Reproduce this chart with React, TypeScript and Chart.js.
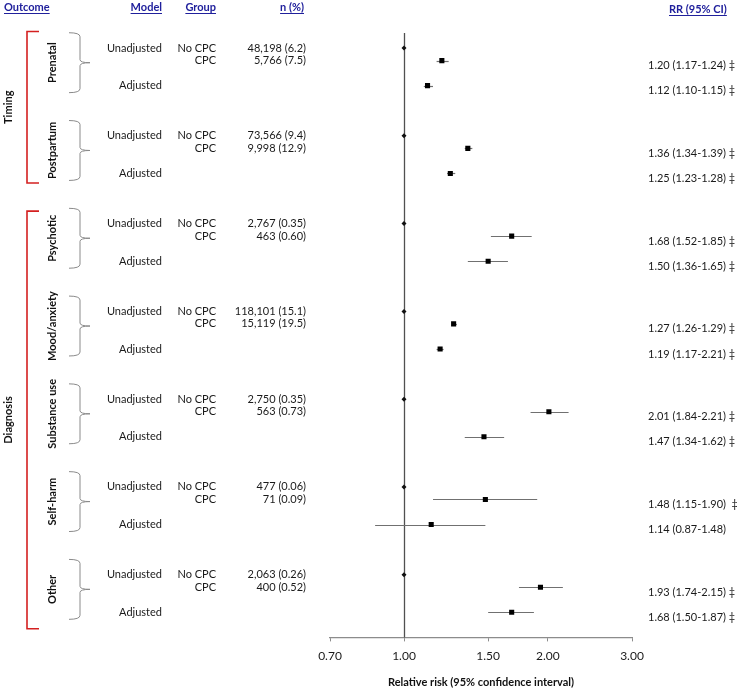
import { useEffect, useRef } from 'react';
import { Chart, registerables } from 'chart.js';

Chart.register(...registerables);

// ---------- data ----------
const outcomes = ['Prenatal', 'Postpartum', 'Psychotic', 'Mood/anxiety', 'Substance use', 'Self-harm', 'Other'];
const sectionNames = ['Timing', 'Diagnosis'];
const sectionStart = [0, 2];
const sectionEnd = [1, 6];

const noCpcN = ['48,198 (6.2)', '73,566 (9.4)', '2,767 (0.35)', '118,101 (15.1)', '2,750 (0.35)', '477 (0.06)', '2,063 (0.26)'];
const cpcN = ['5,766 (7.5)', '9,998 (12.9)', '463 (0.60)', '15,119 (19.5)', '563 (0.73)', '71 (0.09)', '400 (0.52)'];

const unadjRR = [1.20, 1.36, 1.68, 1.27, 2.01, 1.48, 1.93];
const unadjLo = [1.17, 1.34, 1.52, 1.26, 1.84, 1.15, 1.74];
const unadjHi = [1.24, 1.39, 1.85, 1.29, 2.21, 1.90, 2.15];

const adjRR = [1.12, 1.25, 1.50, 1.19, 1.47, 1.14, 1.68];
const adjLo = [1.10, 1.23, 1.36, 1.17, 1.34, 0.87, 1.50];
const adjHi = [1.15, 1.28, 1.65, 1.21, 1.62, 1.48, 1.87];

const unadjLabels = ['1.20 (1.17-1.24) \u2021', '1.36 (1.34-1.39) \u2021', '1.68 (1.52-1.85) \u2021', '1.27 (1.26-1.29) \u2021', '2.01 (1.84-2.21) \u2021', '1.48 (1.15-1.90)  \u2021', '1.93 (1.74-2.15) \u2021'];
const adjLabels = ['1.12 (1.10-1.15) \u2021', '1.25 (1.23-1.28) \u2021', '1.50 (1.36-1.65) \u2021', '1.19 (1.17-2.21) \u2021', '1.47 (1.34-1.62) \u2021', '1.14 (0.87-1.48)', '1.68 (1.50-1.87) \u2021'];

const xTicks = [0.7, 1.0, 1.5, 2.0, 3.0];
const headers = ['Outcome', 'Model', 'Group', 'n (%)', 'RR (95% CI)'];
const modelLabels = ['Unadjusted', 'Adjusted'];
const groupLabels = ['No CPC', 'CPC'];

// row offsets within a block (in y-scale units)
const rowOffsets = [0, 1, 3];
const blockStep = 7;
const rowY = (g: number, k: number) => g * blockStep + rowOffsets[k];

const FONT = "Lato, 'Noto Sans', sans-serif";
const TEXT = '#1a1a1a';
const HEAD = '#20209c';

const forestPlugin = {
  id: 'forest',
  beforeDatasetsDraw(chart: any) {
    const { ctx, chartArea, scales } = chart;
    const x = scales.x;
    const y = scales.y;
    ctx.save();
    const x1 = Math.round(x.getPixelForValue(1)) + 0.5;
    ctx.strokeStyle = '#505050';
    ctx.lineWidth = 1.3;
    ctx.beginPath();
    ctx.moveTo(x1, chartArea.top);
    ctx.lineTo(x1, chartArea.bottom);
    ctx.stroke();

    ctx.strokeStyle = '#707070';
    ctx.lineWidth = 1.2;
    outcomes.forEach((_, g) => {
      const bars: [number, number, number][] = [
        [unadjLo[g], unadjHi[g], rowY(g, 1)],
        [adjLo[g], adjHi[g], rowY(g, 2)],
      ];
      bars.forEach(([lo, hi, r]) => {
        const py = Math.round(y.getPixelForValue(r)) + 0.5;
        ctx.beginPath();
        ctx.moveTo(x.getPixelForValue(lo), py);
        ctx.lineTo(x.getPixelForValue(hi), py);
        ctx.stroke();
      });
    });
    ctx.restore();
  },
  afterDraw(chart: any) {
    const { ctx, scales } = chart;
    const y = scales.y;
    const py = (g: number, k: number) => y.getPixelForValue(rowY(g, k));
    ctx.save();
    ctx.textBaseline = 'middle';

    // headers
    ctx.font = `bold 11px ${FONT}`;
    ctx.fillStyle = HEAD;
    ctx.strokeStyle = HEAD;
    ctx.lineWidth = 1;
    const headPos: [number, 'left' | 'right', number][] = [
      [4, 'left', 7], [162, 'right', 7], [216, 'right', 7], [304, 'right', 7], [669, 'left', 9],
    ];
    headers.forEach((h, i) => {
      const [hx, align, hy] = headPos[i];
      ctx.textAlign = align;
      ctx.fillText(h, hx, hy);
      const w = ctx.measureText(h).width;
      const x0 = align === 'left' ? hx : hx - w;
      ctx.beginPath();
      ctx.moveTo(x0, hy + 6.5);
      ctx.lineTo(x0 + w, hy + 6.5);
      ctx.stroke();
    });

    // section brackets (red) + labels
    sectionNames.forEach((name, s) => {
      const top = py(sectionStart[s], 0) - (s === 0 ? 16.5 : 12.5);
      const bottom = py(sectionEnd[s], 2) + (s === 0 ? 9.5 : 16.5);
      ctx.strokeStyle = '#d42020';
      ctx.lineWidth = 1.6;
      ctx.beginPath();
      ctx.moveTo(39, top);
      ctx.lineTo(27, top);
      ctx.lineTo(27, bottom);
      ctx.lineTo(39, bottom);
      ctx.stroke();
      ctx.save();
      ctx.translate(8, (top + bottom) / 2);
      ctx.rotate(-Math.PI / 2);
      ctx.textAlign = 'center';
      ctx.fillStyle = '#111';
      ctx.font = `bold 11px ${FONT}`;
      ctx.fillText(name, 0, 0);
      ctx.restore();
    });

    // group braces, rotated labels, left text columns, right RR labels
    outcomes.forEach((name, g) => {
      const top = py(g, 0) - 15.3;
      const bottom = py(g, 2) + 7;
      const mid = (top + bottom) / 2;
      ctx.strokeStyle = '#8a8a8a';
      ctx.lineWidth = 1;
      ctx.beginPath();
      ctx.moveTo(69, top);
      ctx.quadraticCurveTo(80, top, 80, top + 4);
      ctx.lineTo(80, mid - 3);
      ctx.quadraticCurveTo(80, mid, 90, mid);
      ctx.quadraticCurveTo(80, mid, 80, mid + 3);
      ctx.lineTo(80, bottom - 4);
      ctx.quadraticCurveTo(80, bottom, 69, bottom);
      ctx.stroke();

      ctx.save();
      ctx.translate(52, mid);
      ctx.rotate(-Math.PI / 2);
      ctx.textAlign = 'center';
      ctx.fillStyle = '#111';
      ctx.font = `bold 11px ${FONT}`;
      ctx.fillText(name, 0, 0);
      ctx.restore();

      ctx.font = `11px ${FONT}`;
      ctx.fillStyle = TEXT;
      ctx.textAlign = 'right';
      ctx.fillText(modelLabels[0], 162, py(g, 0));
      ctx.fillText(modelLabels[1], 162, py(g, 2));
      ctx.fillText(groupLabels[0], 216, py(g, 0));
      ctx.fillText(groupLabels[1], 216, py(g, 1));
      ctx.fillText(noCpcN[g], 306, py(g, 0));
      ctx.fillText(cpcN[g], 306, py(g, 1));

      ctx.textAlign = 'left';
      ctx.fillText(unadjLabels[g], 648, py(g, 1) + 5);
      ctx.fillText(adjLabels[g], 648, py(g, 2) + 5);
    });

    ctx.restore();
  },
};

export default function App() {
  const ref = useRef<HTMLCanvasElement>(null);
  useEffect(() => {
    if (!ref.current) return;
    const refPoints = outcomes.map((_, g) => ({ x: 1, y: rowY(g, 0) }));
    const unadjPoints = unadjRR.map((v, g) => ({ x: v, y: rowY(g, 1) }));
    const adjPoints = adjRR.map((v, g) => ({ x: v, y: rowY(g, 2) }));
    const chart = new Chart(ref.current, {
      type: 'scatter',
      data: {
        datasets: [
          { data: refPoints, pointStyle: 'rectRot', pointRadius: 2.5, backgroundColor: '#111', borderWidth: 0 },
          { data: unadjPoints, pointStyle: 'rect', pointRadius: 3.6, backgroundColor: '#000', borderWidth: 0 },
          { data: adjPoints, pointStyle: 'rect', pointRadius: 3.6, backgroundColor: '#000', borderWidth: 0 },
        ],
      } as any,
      options: {
        animation: false,
        responsive: false,
        devicePixelRatio: 1,
        layout: { padding: { left: 330, right: 105, top: 33, bottom: 0 } },
        plugins: { legend: { display: false }, tooltip: { enabled: false } },
        scales: {
          x: {
            type: 'logarithmic',
            min: 0.7,
            max: 3.0,
            afterBuildTicks: (axis: any) => {
              axis.ticks = xTicks.map((v) => ({ value: v }));
            },
            border: { color: '#8c8c8c', width: 1.2 },
            grid: { drawOnChartArea: false, drawTicks: true, tickLength: 4, color: '#8c8c8c' },
            ticks: {
              autoSkip: false,
              maxRotation: 0,
              padding: 8,
              color: TEXT,
              font: { family: FONT, size: 12 },
              callback: (v: any) => Number(v).toFixed(2),
            },
            title: {
              display: true,
              text: 'Relative risk (95% confidence interval)',
              color: '#111',
              font: { family: FONT, size: 11, weight: 'bold' },
              padding: { top: 4, bottom: 0 },
            },
          },
          y: {
            type: 'linear',
            display: false,
            reverse: true,
            min: -1.2,
            max: 47,
          },
        },
      } as any,
      plugins: [forestPlugin],
    });
    return () => chart.destroy();
  }, []);
  return (
    <div style={{ position: 'fixed', left: 0, top: 0, width: 737, height: 689, background: '#fff' }}>
      <canvas ref={ref} width={737} height={689} style={{ display: 'block', width: 737, height: 689 }} />
    </div>
  );
}
